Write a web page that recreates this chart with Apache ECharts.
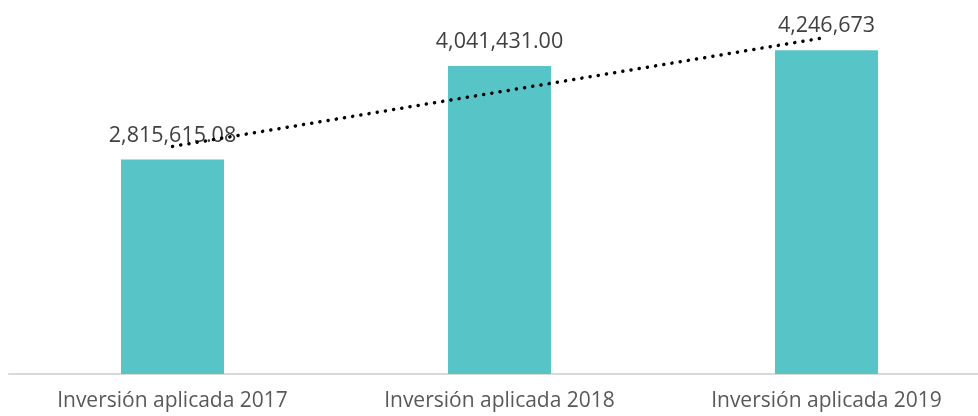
<!DOCTYPE html>
<html>
<head>
<meta charset="utf-8">
<script src="https://cdn.jsdelivr.net/npm/echarts@6/dist/echarts.min.js"></script>
<style>
  html, body { margin: 0; padding: 0; background: #fff; }
  #chart { width: 978px; height: 416px; }
</style>
</head>
<body>
<div id="chart"></div>
<script>
// categorías y valores
var categories = ['Inversión aplicada 2017', 'Inversión aplicada 2018', 'Inversión aplicada 2019'];
var inversion = [2815615.08, 4041431.00, 4246673];
var labelText = ['2,815,615.08', '4,041,431.00', '4,246,673'];
// línea de tendencia (extremos)
var trendStart = 2985700;
var trendEnd = 4416800;

var chart = echarts.init(document.getElementById('chart'));

chart.setOption({
    animation: false,
    grid: { // márgenes del área de trazado
        left: 9,
        top: 31,
        width: 981,
        height: 343,
        outerBoundsMode: 'none'
    },
    xAxis: {
        type: 'category',
        data: categories,
        axisTick: { show: false },
        axisLine: { lineStyle: { color: '#d9d9d9', width: 2 } },
        axisLabel: {
            color: '#595959',
            fontFamily: 'Open Sans',
            fontSize: 21,
            margin: 17
        }
    },
    yAxis: {
        type: 'value',
        min: 0,
        max: 4500000,
        show: false,
        splitLine: { show: false }
    },
    series: [
        {
            type: 'bar',
            data: inversion,
            barWidth: '31.5%',
            itemStyle: { color: '#57c5c8' },
            label: {
                show: true,
                position: 'top',
                distance: 13,
                color: '#404040',
                fontFamily: 'Open Sans',
                fontSize: 21.5,
                formatter: function (p) { return labelText[p.dataIndex]; }
            }
        },
        {
            type: 'line',
            data: [[0, trendStart], [2, trendEnd]],
            symbol: 'none',
            z: 5,
            lineStyle: {
                color: '#000',
                width: 3.5,
                type: [0.1, 8.2],
                cap: 'round'
            }
        }
    ]
});
</script>
</body>
</html>
